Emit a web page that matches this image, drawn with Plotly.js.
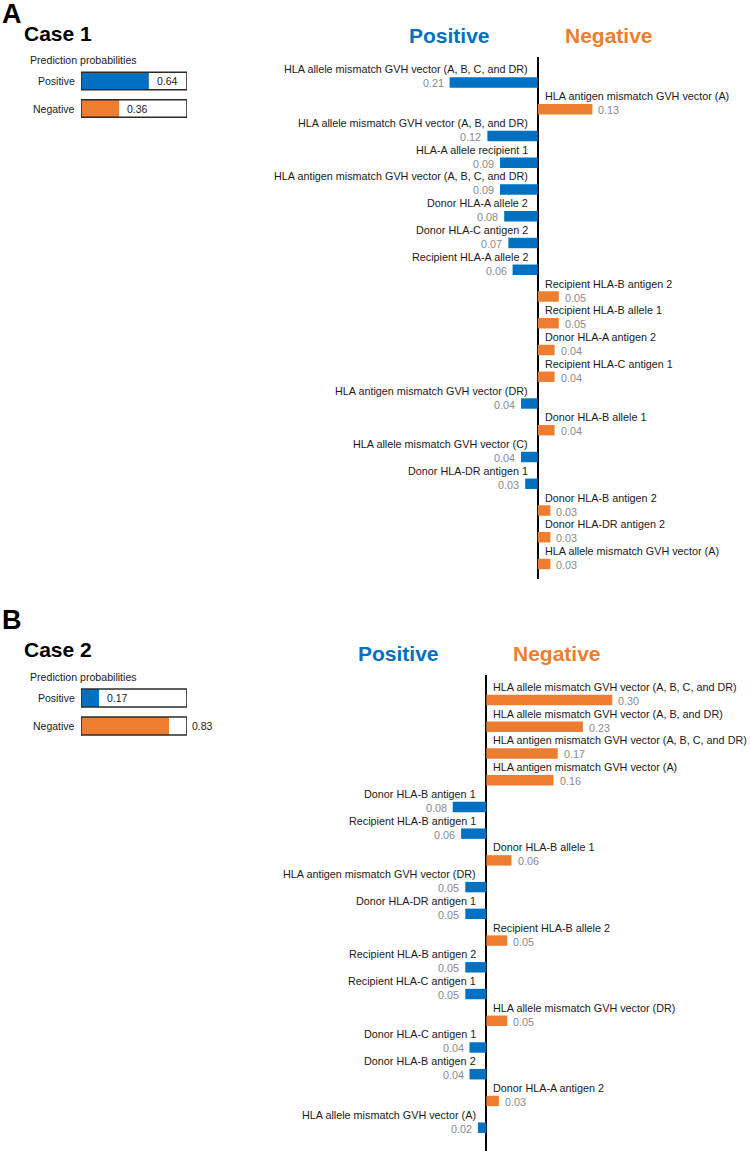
<!DOCTYPE html>
<html>
<head>
<meta charset="utf-8">
<script src="https://cdn.plot.ly/plotly-3.0.1.min.js"></script>
<style>html,body{margin:0;padding:0;background:#fff}#chart{width:750px;height:1151px}</style>
</head>
<body>
<div id="chart"></div>
<script>
// ---------- DATA ----------
const probClasses = ['Positive', 'Negative'];
const probA = [0.64, 0.36];
const probB = [0.17, 0.83];

const featuresA = [
  'HLA allele mismatch GVH vector (A, B, C, and DR)',
  'HLA antigen mismatch GVH vector (A)',
  'HLA allele mismatch GVH vector (A, B, and DR)',
  'HLA-A allele recipient 1',
  'HLA antigen mismatch GVH vector (A, B, C, and DR)',
  'Donor HLA-A allele 2',
  'Donor HLA-C antigen 2',
  'Recipient HLA-A allele 2',
  'Recipient HLA-B antigen 2',
  'Recipient HLA-B allele 1',
  'Donor HLA-A antigen 2',
  'Recipient HLA-C antigen 1',
  'HLA antigen mismatch GVH vector (DR)',
  'Donor HLA-B allele 1',
  'HLA allele mismatch GVH vector (C)',
  'Donor HLA-DR antigen 1',
  'Donor HLA-B antigen 2',
  'Donor HLA-DR antigen 2',
  'HLA allele mismatch GVH vector (A)'
];
const weightsA = [0.21, 0.13, 0.12, 0.09, 0.09, 0.08, 0.07, 0.06, 0.05, 0.05, 0.04, 0.04, 0.04, 0.04, 0.04, 0.03, 0.03, 0.03, 0.03];
const sidesA = ['Positive', 'Negative', 'Positive', 'Positive', 'Positive', 'Positive', 'Positive', 'Positive',
  'Negative', 'Negative', 'Negative', 'Negative', 'Positive', 'Negative', 'Positive', 'Positive',
  'Negative', 'Negative', 'Negative'];

const featuresB = [
  'HLA allele mismatch GVH vector (A, B, C, and DR)',
  'HLA allele mismatch GVH vector (A, B, and DR)',
  'HLA antigen mismatch GVH vector (A, B, C, and DR)',
  'HLA antigen mismatch GVH vector (A)',
  'Donor HLA-B antigen 1',
  'Recipient HLA-B antigen 1',
  'Donor HLA-B allele 1',
  'HLA antigen mismatch GVH vector (DR)',
  'Donor HLA-DR antigen 1',
  'Recipient HLA-B allele 2',
  'Recipient HLA-B antigen 2',
  'Recipient HLA-C antigen 1',
  'HLA allele mismatch GVH vector (DR)',
  'Donor HLA-C antigen 1',
  'Donor HLA-B antigen 2',
  'Donor HLA-A antigen 2',
  'HLA allele mismatch GVH vector (A)'
];
const weightsB = [0.30, 0.23, 0.17, 0.16, 0.08, 0.06, 0.06, 0.05, 0.05, 0.05, 0.05, 0.05, 0.05, 0.04, 0.04, 0.03, 0.02];
const sidesB = ['Negative', 'Negative', 'Negative', 'Negative', 'Positive', 'Positive', 'Negative', 'Positive',
  'Positive', 'Negative', 'Positive', 'Positive', 'Negative', 'Positive', 'Positive', 'Negative', 'Positive'];

// ---------- STYLE ----------
const W = 750, H = 1151;
const FONT = '"Liberation Sans", Arial, sans-serif';
const COLORS = {Positive: '#0070C0', Negative: '#ED7D31'};
const GRAY = '#8a8a8a';
const TXT = '#1a1a1a';
const PXU = 420; // px per unit of weight

const py = p => 1 - p / H;
const px = p => p / W;
const ydom = (top, bot) => [py(bot), py(top)];
const xdom = (l, r) => [px(l), px(r)];

const data = [];
const annotations = [];
const layout = {
  width: W, height: H,
  margin: {l: 0, r: 0, t: 0, b: 0},
  paper_bgcolor: '#fff', plot_bgcolor: 'rgba(0,0,0,0)',
  showlegend: false, barmode: 'overlay',
  font: {family: FONT, color: TXT},
  hovermode: false,
  annotations: annotations
};

const hidden = {showgrid: false, zeroline: false, showticklabels: false, ticks: '', showline: false, fixedrange: true};

function probPanel(ax, vals, dom) {
  const xa = 'xaxis' + ax, ya = 'yaxis' + ax;
  const xr = 'x' + ax, yr = 'y' + ax;
  layout[xa] = Object.assign({}, hidden, {domain: xdom(dom.x0, dom.x1), range: [0, 1], anchor: yr});
  const topPx = dom.row0 - dom.step / 2, botPx = dom.row0 + dom.step * 1.5;
  layout[ya] = Object.assign({}, hidden, {domain: ydom(topPx, botPx), range: [1.5, -0.5], anchor: xr});
  const idx = probClasses.map((_, i) => i);
  data.push({
    type: 'bar', orientation: 'h', xaxis: xr, yaxis: yr,
    x: vals, y: idx, width: 0.64,
    marker: {color: probClasses.map(c => COLORS[c]), line: {width: 0}}
  });
  data.push({
    type: 'bar', orientation: 'h', xaxis: xr, yaxis: yr,
    x: vals.map(() => 1), y: idx, width: 0.64,
    marker: {color: 'rgba(0,0,0,0)', line: {width: 1.6, color: '#2b2b2b'}}
  });
  probClasses.forEach((c, i) => {
    annotations.push({xref: xr, yref: yr, x: 0, y: i, text: c, showarrow: false,
      xanchor: 'right', xshift: -4, font: {size: 10.5, color: TXT}});
    const outside = vals[i] > 0.8;
    annotations.push({xref: xr, yref: yr, x: outside ? 1 : vals[i], y: i,
      text: vals[i].toFixed(2), showarrow: false, xanchor: 'left',
      xshift: outside ? 3 : 6, font: {size: 10.5, color: TXT}});
  });
}

function limePanel(ax, feats, weights, sides, g) {
  const xa = 'xaxis' + ax, ya = 'yaxis' + ax;
  const xr = 'x' + ax, yr = 'y' + ax;
  layout[xa] = Object.assign({}, hidden, {
    domain: xdom(g.x0, g.x1),
    range: [-(g.zero - g.x0) / PXU, (g.x1 - g.zero) / PXU],
    zeroline: true, zerolinecolor: '#000', zerolinewidth: 2.3, anchor: yr
  });
  layout[ya] = Object.assign({}, hidden, {
    domain: ydom(g.top, g.bot),
    range: [(g.bot - g.row0) / g.step, (g.top - g.row0) / g.step], anchor: xr
  });
  const idx = feats.map((_, i) => i);
  const signed = weights.map((w, i) => sides[i] === 'Positive' ? -w : w);
  data.push({
    type: 'bar', orientation: 'h', xaxis: xr, yaxis: yr,
    x: signed, y: idx, width: 0.39,
    marker: {color: sides.map(s => COLORS[s]), line: {width: 0}}
  });
  feats.forEach((f, i) => {
    const pos = sides[i] === 'Positive';
    annotations.push({xref: xr, yref: yr, x: 0, y: i, text: f, showarrow: false,
      xanchor: pos ? 'right' : 'left', xshift: pos ? -8 : 5, yshift: 13,
      font: {size: 10.8, color: TXT}});
    annotations.push({xref: xr, yref: yr, x: signed[i], y: i, text: weights[i].toFixed(2), showarrow: false,
      xanchor: pos ? 'right' : 'left', xshift: pos ? -4 : 4, yshift: -1,
      font: {size: 10.8, color: GRAY}});
  });
  annotations.push({xref: xr, yref: 'paper', x: 0, y: py(g.titleY), text: '<b>Positive</b>', showarrow: false,
    xanchor: 'center', yanchor: 'middle', xshift: -88, font: {size: 21, color: COLORS.Positive}});
  annotations.push({xref: xr, yref: 'paper', x: 0, y: py(g.titleY), text: '<b>Negative</b>', showarrow: false,
    xanchor: 'center', yanchor: 'middle', xshift: 71, font: {size: 21, color: COLORS.Negative}});
}

function header(letter, letterY, caseText, caseY, ppY) {
  annotations.push({xref: 'paper', yref: 'paper', x: 0, y: py(letterY), text: '<b>' + letter + '</b>',
    showarrow: false, xanchor: 'left', yanchor: 'middle', font: {size: 27, color: '#000'}});
  annotations.push({xref: 'paper', yref: 'paper', x: px(22), y: py(caseY), text: '<b>' + caseText + '</b>',
    showarrow: false, xanchor: 'left', yanchor: 'middle', font: {size: 21, color: '#000'}});
  annotations.push({xref: 'paper', yref: 'paper', x: px(28), y: py(ppY), text: 'Prediction probabilities',
    showarrow: false, xanchor: 'left', yanchor: 'middle', font: {size: 10.6, color: TXT}});
}

// Panel A
header('A', 14, 'Case 1', 34, 60);
probPanel('', probA, {x0: 81, x1: 187, row0: 81, step: 27.5});
limePanel('2', featuresA, weightsA, sidesA,
  {x0: 270, x1: 750, zero: 537.8, top: 57, bot: 579, row0: 82.5, step: 26.75, titleY: 35});

// Panel B
header('B', 620, 'Case 2', 649, 677);
probPanel('3', probB, {x0: 81, x1: 187, row0: 698, step: 28});
limePanel('4', featuresB, weightsB, sidesB,
  {x0: 250, x1: 750, zero: 486.3, top: 675, bot: 1151, row0: 700, step: 26.73, titleY: 653});

Plotly.newPlot('chart', data, layout, {staticPlot: true, displayModeBar: false});
</script>
</body>
</html>
